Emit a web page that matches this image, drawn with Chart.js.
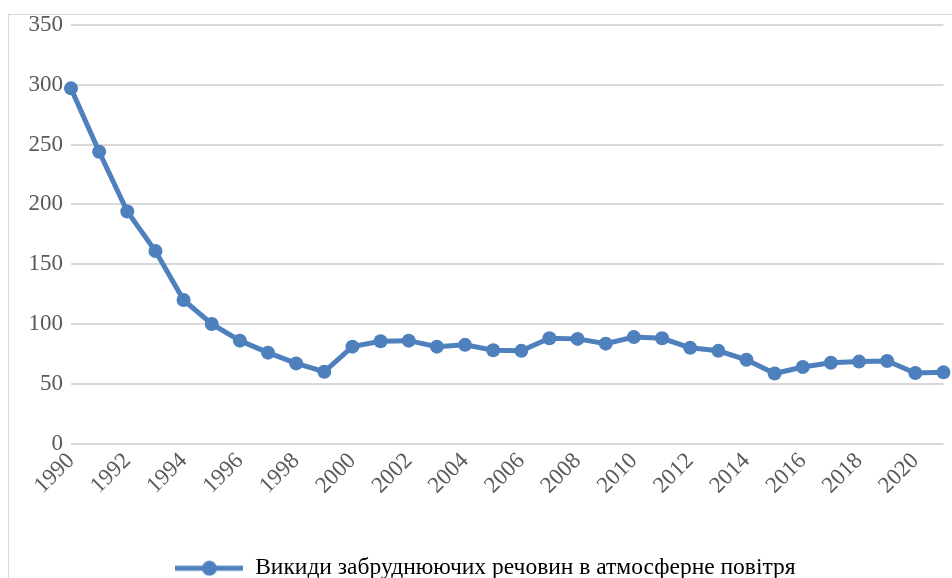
<!DOCTYPE html>
<html>
<head>
<meta charset="utf-8">
<script src="https://cdn.jsdelivr.net/npm/chart.js@4/dist/chart.umd.min.js"></script>
<style>
  html, body { margin: 0; padding: 0; background: #fff; overflow: hidden; }
  #wrap { position: relative; width: 952px; height: 578px; overflow: hidden; }
  #frame { position: absolute; left: 8px; top: 14px; width: 980px; height: 600px; border: 1px solid #d9d9d9; box-sizing: border-box; }
  #chartBox { position: absolute; left: 0; top: 0; width: 967px; height: 590px; }
</style>
</head>
<body>
<div id="wrap">
  <div id="frame"></div>
  <div id="chartBox"><canvas id="emissionsChart"></canvas></div>
</div>
<script>
/* ========================================================================= */
/*	Викиди забруднюючих речовин в атмосферне повітря, 1990-2021
/* ========================================================================= */

const years = [1990, 1991, 1992, 1993, 1994, 1995, 1996, 1997, 1998, 1999,
               2000, 2001, 2002, 2003, 2004, 2005, 2006, 2007, 2008, 2009,
               2010, 2011, 2012, 2013, 2014, 2015, 2016, 2017, 2018, 2019,
               2020, 2021];
const emissions = [297, 244, 194, 161, 120, 100, 86, 76, 67, 60,
                   81, 85.5, 86, 81, 82.5, 78, 77.5, 88, 87.5, 83.5,
                   89, 88, 80, 77.5, 70, 58.5, 64, 67.5, 68.5, 69,
                   59, 59.5];
const seriesLabel = 'Викиди забруднюючих речовин в атмосферне повітря';
const yTicks = [0, 50, 100, 150, 200, 250, 300, 350];

document.addEventListener("DOMContentLoaded", function () {
    const blue = '#4e80bd';
    const serif = '"Liberation Serif", "Times New Roman", serif';

    // legend marker: thick line with a dot in the middle
    const marker = document.createElement('canvas');
    marker.width = 68;
    marker.height = 16;
    const m = marker.getContext('2d');
    m.fillStyle = blue;
    m.fillRect(0, 5.5, 68, 5);
    m.beginPath();
    m.arc(34, 8, 7.5, 0, Math.PI * 2);
    m.fill();

    const config = {
        type: 'line',
        data: {
            labels: years,
            datasets: [{
                label: seriesLabel,
                data: emissions,
                borderColor: blue,
                backgroundColor: blue,
                borderWidth: 5,
                pointRadius: 7,
                pointHoverRadius: 7,
                pointBackgroundColor: blue,
                pointBorderWidth: 0,
                pointStyle: 'circle',
                tension: 0,
                fill: false
            }]
        },
        options: {
            responsive: true,
            maintainAspectRatio: false,
            animation: false,
            layout: { padding: { left: 11, right: 7, top: 25, bottom: 0 } },
            scales: {
                x: {
                    offset: false,
                    grid: { display: false, drawTicks: false },
                    border: { display: false },
                    ticks: {
                        autoSkip: false,
                        maxRotation: 45,
                        minRotation: 45,
                        padding: 4,
                        color: '#595959',
                        font: { family: serif, size: 23 },
                        callback: function (v, i) {
                            return years[i] % 2 === 0 ? String(years[i]) : '';
                        }
                    },
                    afterFit: function (s) { s.height = 105; }
                },
                y: {
                    min: 0,
                    max: 350,
                    afterBuildTicks: function (s) {
                        s.ticks = yTicks.map(v => ({ value: v }));
                    },
                    grid: { color: '#d9d9d9', lineWidth: 2, drawTicks: false },
                    border: { display: false },
                    ticks: {
                        padding: 8,
                        color: '#595959',
                        font: { family: serif, size: 23 }
                    },
                    afterFit: function (s) { s.width = 60; }
                }
            },
            plugins: {
                tooltip: { enabled: false },
                legend: {
                    position: 'bottom',
                    labels: {
                        usePointStyle: true,
                        pointStyle: marker,
                        pointStyleWidth: 68,
                        padding: 8,
                        color: '#595959',
                        font: { family: serif, size: 23.5 },
                        generateLabels: function (chart) {
                            return [{
                                text: seriesLabel,
                                pointStyle: marker,
                                fillStyle: blue,
                                strokeStyle: blue,
                                lineWidth: 0,
                                datasetIndex: 0,
                                hidden: false
                            }];
                        }
                    }
                }
            }
        }
    };

    new Chart(document.getElementById('emissionsChart').getContext('2d'), config);
});
</script>
</body>
</html>
